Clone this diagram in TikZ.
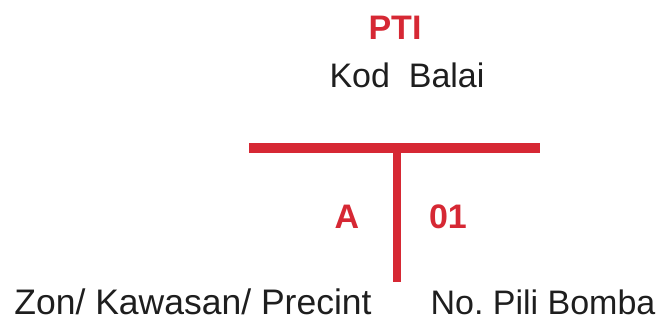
\documentclass[tikz,border=0pt]{standalone}
\usepackage{fontspec}
\usepackage{xcolor}
\usepackage{tikz}
\setmainfont{Liberation Sans}
\definecolor{ptired}{RGB}{214,40,52}
\definecolor{ptiblack}{RGB}{30,30,30}

\begin{document}
\begin{tikzpicture}[x=1pt, y=-1pt,
    redlabel/.style={text=ptired, font=\fontsize{34}{38}\selectfont\bfseries, anchor=base, inner sep=0pt},
    blacklabel/.style={text=ptiblack, font=\fontsize{34}{38}\selectfont, anchor=base, inner sep=0pt},
    bar/.style={draw=ptired, line width=10.5pt},
    stem/.style={draw=ptired, line width=8pt}]
    \useasboundingbox (0,0) rectangle (662,322);
    \node[redlabel] at (395, 39) (pti) {PTI};
    \node[blacklabel] at (407, 87) (kod) {Kod\ \ Balai};
    \coordinate (barL) at (249, 148);
    \coordinate (barR) at (540, 148);
    \coordinate (stemT) at (397, 148);
    \coordinate (stemB) at (397, 282);
    \draw [bar] (barL) -- (barR);
    \draw [stem] (stemT) -- (stemB);
    \node[redlabel] at (347, 228) (zon) {A};
    \node[redlabel] at (448, 228) (pili) {01};
    \node[blacklabel, font=\fontsize{35.5}{40}\selectfont] at (193, 314) (zonlabel) {Zon/ Kawasan/ Precint};
    \node[blacklabel] at (543, 314) (pililabel) {No.~Pili Bomba};
\end{tikzpicture}
\end{document}
